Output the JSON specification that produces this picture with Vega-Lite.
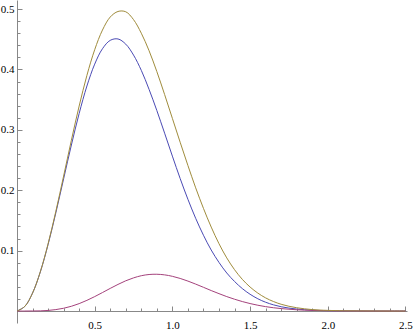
{
  "$schema": "https://vega.github.io/schema/vega-lite/v6.json",
  "width": 390,
  "height": 323,
  "autosize": {"type": "none"},
  "padding": {"left": 17, "top": 0, "right": 8, "bottom": 9},
  "config": {"view": {"stroke": null}, "background": "white"},
  "data": {"values": [
    {"x": 0, "blue": 0, "purple": 0, "gold": 0},
    {"x": 0.05, "blue": 0.0076, "purple": 0.0000, "gold": 0.0076},
    {"x": 0.1, "blue": 0.0297, "purple": 0.0001, "gold": 0.0297},
    {"x": 0.15, "blue": 0.0647, "purple": 0.0003, "gold": 0.0650},
    {"x": 0.2, "blue": 0.1101, "purple": 0.0010, "gold": 0.1112},
    {"x": 0.25, "blue": 0.1627, "purple": 0.0024, "gold": 0.1651},
    {"x": 0.3, "blue": 0.2189, "purple": 0.0046, "gold": 0.2235},
    {"x": 0.35, "blue": 0.2749, "purple": 0.0079, "gold": 0.2828},
    {"x": 0.4, "blue": 0.3271, "purple": 0.0123, "gold": 0.3394},
    {"x": 0.45, "blue": 0.3726, "purple": 0.0177, "gold": 0.3902},
    {"x": 0.5, "blue": 0.4088, "purple": 0.0239, "gold": 0.4327},
    {"x": 0.55, "blue": 0.4343, "purple": 0.0306, "gold": 0.4652},
    {"x": 0.6, "blue": 0.4482, "purple": 0.0375, "gold": 0.4868},
    {"x": 0.65, "blue": 0.4505, "purple": 0.0441, "gold": 0.4960},
    {"x": 0.7, "blue": 0.4419, "purple": 0.0501, "gold": 0.4955},
    {"x": 0.75, "blue": 0.4238, "purple": 0.0549, "gold": 0.4825},
    {"x": 0.8, "blue": 0.3985, "purple": 0.0585, "gold": 0.4600},
    {"x": 0.85, "blue": 0.3670, "purple": 0.0605, "gold": 0.4310},
    {"x": 0.9, "blue": 0.3320, "purple": 0.0609, "gold": 0.3965},
    {"x": 0.95, "blue": 0.2945, "purple": 0.0599, "gold": 0.3585},
    {"x": 1.0, "blue": 0.2565, "purple": 0.0575, "gold": 0.3190},
    {"x": 1.05, "blue": 0.2195, "purple": 0.0540, "gold": 0.2795},
    {"x": 1.1, "blue": 0.1850, "purple": 0.0496, "gold": 0.2410},
    {"x": 1.15, "blue": 0.1535, "purple": 0.0446, "gold": 0.2040},
    {"x": 1.2, "blue": 0.1255, "purple": 0.0393, "gold": 0.1700},
    {"x": 1.25, "blue": 0.1010, "purple": 0.0339, "gold": 0.1390},
    {"x": 1.3, "blue": 0.0805, "purple": 0.0288, "gold": 0.1115},
    {"x": 1.35, "blue": 0.0630, "purple": 0.0239, "gold": 0.0880},
    {"x": 1.4, "blue": 0.0490, "purple": 0.0196, "gold": 0.0685},
    {"x": 1.45, "blue": 0.0372, "purple": 0.0157, "gold": 0.0525},
    {"x": 1.5, "blue": 0.0278, "purple": 0.0124, "gold": 0.0398},
    {"x": 1.55, "blue": 0.0203, "purple": 0.0096, "gold": 0.0297},
    {"x": 1.6, "blue": 0.0146, "purple": 0.0073, "gold": 0.0218},
    {"x": 1.65, "blue": 0.0103, "purple": 0.0055, "gold": 0.0158},
    {"x": 1.7, "blue": 0.0071, "purple": 0.0041, "gold": 0.0112},
    {"x": 1.75, "blue": 0.0049, "purple": 0.0030, "gold": 0.0079},
    {"x": 1.8, "blue": 0.0033, "purple": 0.0021, "gold": 0.0055},
    {"x": 1.85, "blue": 0.0022, "purple": 0.0015, "gold": 0.0037},
    {"x": 1.9, "blue": 0.0014, "purple": 0.0010, "gold": 0.0024},
    {"x": 1.95, "blue": 0.0009, "purple": 0.0007, "gold": 0.0016},
    {"x": 2.0, "blue": 0.0006, "purple": 0.0005, "gold": 0.0011},
    {"x": 2.1, "blue": 0.0002, "purple": 0.0002, "gold": 0.0004},
    {"x": 2.2, "blue": 0.0001, "purple": 0.0001, "gold": 0.0002},
    {"x": 2.3, "blue": 0, "purple": 0, "gold": 0.0001},
    {"x": 2.4, "blue": 0, "purple": 0, "gold": 0},
    {"x": 2.5, "blue": 0, "purple": 0, "gold": 0}
  ]},
  "transform": [{"fold": ["blue", "purple", "gold"], "as": ["series", "y"]}],
  "mark": {"type": "line", "interpolate": "catmull-rom", "strokeWidth": 1, "clip": true},
  "encoding": {
    "x": {
      "field": "x", "type": "quantitative",
      "scale": {"domain": [0, 2.51], "nice": false, "zero": false},
      "axis": {
        "title": null, "grid": false, "offset": -12,
        "values": [0.1,0.2,0.3,0.4,0.5,0.6,0.7,0.8,0.9,1.0,1.1,1.2,1.3,1.4,1.5,1.6,1.7,1.8,1.9,2.0,2.1,2.2,2.3,2.4,2.5],
        "labelExpr": "abs(datum.value*2 - round(datum.value*2)) < 0.001 ? format(datum.value, '.1f') : ''",
        "domainColor": "#888888", "tickColor": "#888888",
        "tickSize": {"condition": {"test": "abs(datum.value*2 - round(datum.value*2)) < 0.001", "value": -5}, "value": -3},
        "labelFont": "Liberation Serif", "labelFontSize": 11, "labelColor": "#000000",
        "labelPadding": 13, "labelFlush": false, "labelOverlap": false
      }
    },
    "y": {
      "field": "y", "type": "quantitative",
      "scale": {"domain": [-0.0198, 0.515], "nice": false, "zero": false},
      "axis": {
        "title": null, "grid": false,
        "values": [0.02,0.04,0.06,0.08,0.1,0.12,0.14,0.16,0.18,0.2,0.22,0.24,0.26,0.28,0.3,0.32,0.34,0.36,0.38,0.4,0.42,0.44,0.46,0.48,0.5],
        "labelExpr": "abs(datum.value*10 - round(datum.value*10)) < 0.001 ? format(datum.value, '.1f') : ''",
        "domainColor": "#888888", "tickColor": "#888888",
        "tickSize": {"condition": {"test": "abs(datum.value*10 - round(datum.value*10)) < 0.001", "value": -5}, "value": -3},
        "labelFont": "Liberation Serif", "labelFontSize": 11, "labelColor": "#000000",
        "labelPadding": 8, "labelFlush": false, "labelOverlap": false
      }
    },
    "color": {
      "field": "series", "type": "nominal",
      "scale": {"domain": ["blue", "purple", "gold"], "range": ["#4a4ab4", "#a4427c", "#a08c3c"]},
      "legend": null
    }
  }
}
